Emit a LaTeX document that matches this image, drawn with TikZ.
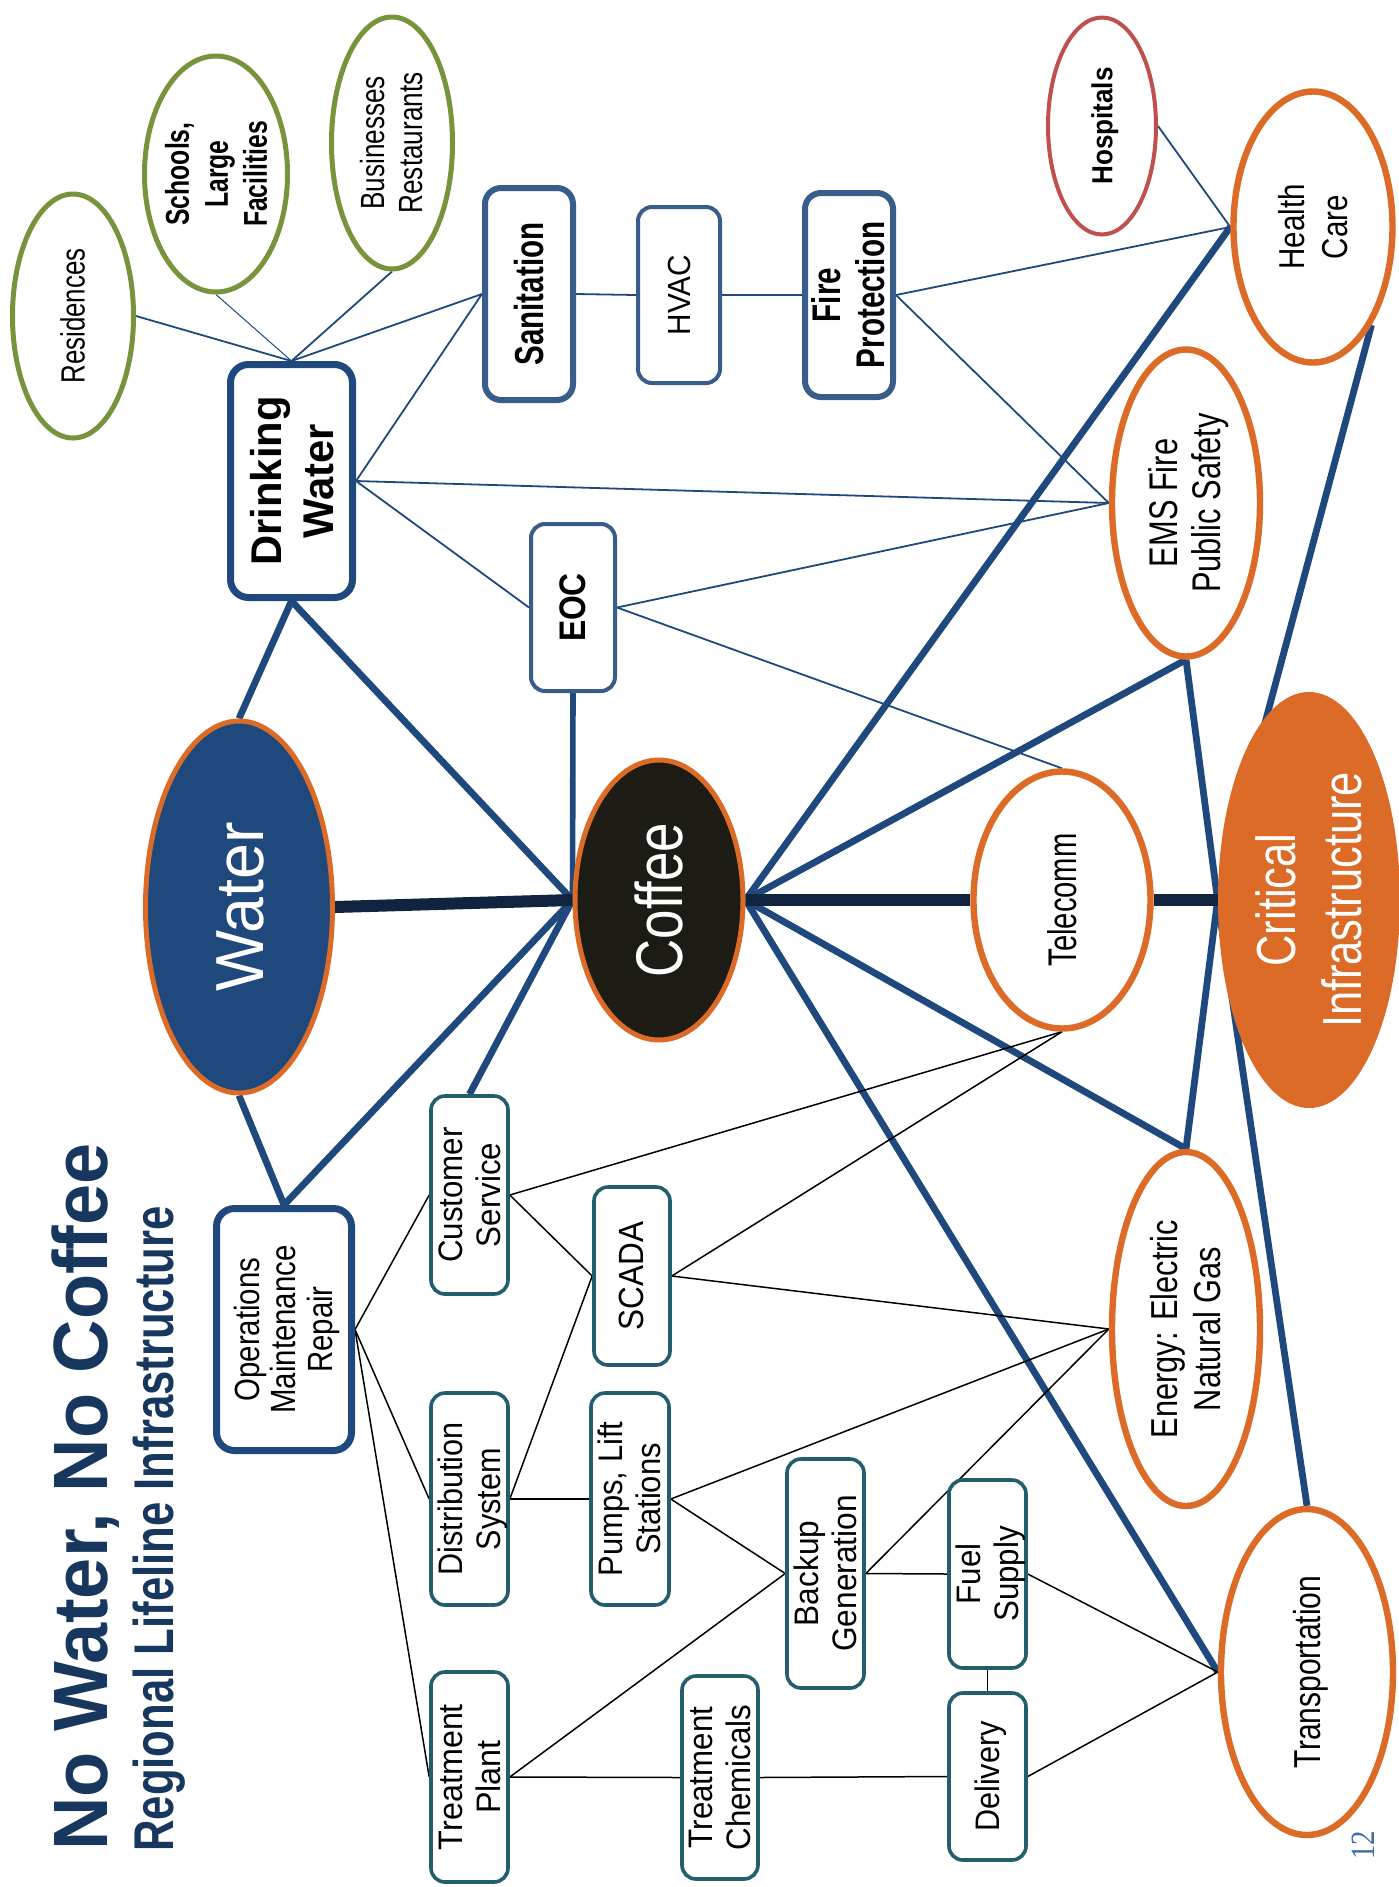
\documentclass[tikz,border=0pt]{standalone}
\usepackage{fontspec}
\setmainfont{Liberation Sans}
\newfontfamily\numfont{Liberation Serif}
\usepackage{graphicx}
\usetikzlibrary{shapes.geometric}

\pgfdeclarelayer{bg}
\pgfdeclarelayer{edges}
\pgfsetlayers{bg,edges,main}

\definecolor{navy}{HTML}{1F497D}
\definecolor{boxblue}{HTML}{385D8A}
\definecolor{tealbox}{HTML}{245E6E}
\definecolor{orng}{HTML}{DC6B27}
\definecolor{grn}{HTML}{77933C}
\definecolor{redring}{HTML}{C0504D}
\definecolor{coffeefill}{HTML}{1D1C14}
\definecolor{deepnavy}{HTML}{10243F}
\definecolor{titleblue}{HTML}{17375E}
\definecolor{pagenum}{HTML}{3C6DA8}

% rotated (bottom-to-top) label of zero size, centred on its capitals:
% font switch, size, baselineskip, horizontal stretch, lines
\newcommand\vtext[5]{%
  \makebox[0pt][c]{\raisebox{\dimexpr\depth-0.5\totalheight\relax}[0pt][0pt]{%
    \rotatebox{90}{\fontsize{#2}{#3}\selectfont#1%
      \scalebox{#4}[1]{\raisebox{-0.12em}[\height][\depth]{%
        \begin{tabular}{@{}c@{}}#5\end{tabular}}}}}}}

\begin{document}
\begin{tikzpicture}[x=0.5pt,y=-0.5pt,
  ring/.style={ellipse, inner sep=0pt, fill=white},
  tile/.style={rectangle, inner sep=0pt, fill=white},
  greenring/.style={ring, draw=grn, line width=2.5pt},
  orangering/.style={ring, draw=orng, line width=3.2pt},
  mainbox/.style={tile, draw=navy, line width=3.5pt, rounded corners=9pt},
  bluebox/.style={tile, draw=boxblue, line width=3pt, rounded corners=8pt},
  lightbox/.style={tile, draw=boxblue, line width=2pt, rounded corners=7pt},
  tealtile/.style={tile, draw=tealbox, line width=1.8pt, rounded corners=7pt},
  thinblue/.style={draw=navy, line width=0.9pt},
  hairblue/.style={draw=navy, line width=0.5pt},
  thinblack/.style={draw=black, line width=0.75pt},
  trunk/.style={draw=navy, line width=3.4pt},
  heavy/.style={draw=deepnavy, line width=6pt}]

\useasboundingbox (0,0) rectangle (1399,1887);
\begin{pgfonlayer}{bg}
  \fill[white] (0,0) rectangle (1399,1887);
\end{pgfonlayer}

% headings
\node[inner sep=0pt, text=titleblue] (title) at (80,1497)
  {\vtext{\bfseries}{38.5pt}{46pt}{0.96}{No Water, No Coffee}};
\node[inner sep=0pt, text=titleblue] (subtitle) at (153,1529)
  {\vtext{\bfseries}{28pt}{33.6pt}{0.78}{Regional Lifeline Infrastructure}};
\node[inner sep=0pt, text=pagenum] (pageno) at (1362,1845)
  {\vtext{\numfont}{17pt}{20pt}{0.85}{12}};

% customers
\node[greenring, minimum width=60.5pt, minimum height=122pt] (res) at (73,316)
  {\vtext{}{16.8pt}{19pt}{0.77}{Residences}};
\node[greenring, minimum width=71.5pt, minimum height=118pt] (sch) at (216,174)
  {\vtext{\bfseries}{16.5pt}{19.5pt}{0.75}{\bfseries Schools,\\\bfseries Large\\\bfseries Facilities}};
\node[greenring, minimum width=60.5pt, minimum height=126pt] (bus) at (392,143)
  {\vtext{}{16.75pt}{19pt}{0.78}{Businesses\\Restaurants}};

% water side
\node[mainbox, minimum width=61pt, minimum height=116.5pt] (dw) at (291.5,481)
  {\vtext{\bfseries}{21.5pt}{26pt}{0.97}{\bfseries Drinking\\\bfseries Water}};
\node[bluebox, minimum width=44pt, minimum height=106pt] (san) at (529,294)
  {\vtext{\bfseries}{20.25pt}{23pt}{0.73}{\bfseries Sanitation}};
\node[lightbox, minimum width=41pt, minimum height=88pt] (hvac) at (679,295)
  {\vtext{}{16pt}{19pt}{0.93}{HVAC}};
\node[bluebox, minimum width=44pt, minimum height=102pt] (fire) at (849,295)
  {\vtext{\bfseries}{20pt}{22pt}{0.74}{\bfseries Fire\\\bfseries Protection}};
\node[lightbox, minimum width=42pt, minimum height=83.5pt] (eoc) at (573,607.5)
  {\vtext{\bfseries}{18.5pt}{21pt}{0.86}{\bfseries EOC}};

\node[ring, draw=orng, fill=navy, line width=2.5pt, minimum width=93.5pt, minimum height=186pt, text=white] (water) at (239,907)
  {\vtext{}{34pt}{40pt}{0.95}{Water}};
\node[ring, draw=orng, fill=coffeefill, line width=2.5pt, minimum width=84pt, minimum height=140pt, text=white] (coffee) at (659,900)
  {\vtext{}{33pt}{39pt}{0.8}{Coffee}};

% critical infrastructure side
\node[ring, draw=redring, line width=2pt, minimum width=54pt, minimum height=108.5pt] (hosp) at (1102,126)
  {\vtext{\bfseries}{14.5pt}{17pt}{0.9}{\bfseries Hospitals}};
\node[orangering, minimum width=79.5pt, minimum height=135.5pt] (hc) at (1313,227)
  {\vtext{}{18pt}{21.5pt}{0.82}{Health\\Care}};
\node[orangering, minimum width=74pt, minimum height=153.5pt] (ems) at (1186,503)
  {\vtext{}{20pt}{21.5pt}{0.77}{EMS Fire\\Public Safety}};
\node[orangering, minimum width=88.5pt, minimum height=128.5pt] (tel) at (1062,900)
  {\vtext{}{20pt}{23pt}{0.73}{Telecomm}};
\node[ring, fill=orng, minimum width=91pt, minimum height=208pt, text=white] (ci) at (1309,900)
  {\vtext{}{27.5pt}{33pt}{0.79}{Critical\\Infrastructure}};
\node[orangering, minimum width=74pt, minimum height=177pt] (energy) at (1186,1329)
  {\vtext{}{18.75pt}{21.5pt}{0.82}{Energy: Electric\\Natural Gas}};
\node[orangering, minimum width=86pt, minimum height=163pt] (transp) at (1307,1672)
  {\vtext{}{18.75pt}{21.5pt}{0.8}{Transportation}};

% utility operations
\node[mainbox, minimum width=67.5pt, minimum height=121pt] (omr) at (284,1329.5)
  {\vtext{}{17.5pt}{18.25pt}{0.84}{Operations\\Maintenance\\Repair}};
\node[tealtile, minimum width=38.5pt, minimum height=99pt] (cs) at (469.5,1195)
  {\vtext{}{17pt}{19pt}{0.92}{Customer\\Service}};
\node[tealtile, minimum width=38pt, minimum height=89pt] (scada) at (632,1276)
  {\vtext{}{17.5pt}{19pt}{0.9}{SCADA}};
\node[tealtile, minimum width=38.5pt, minimum height=106pt] (dist) at (469.5,1499)
  {\vtext{}{17pt}{19pt}{0.9}{Distribution\\System}};
\node[tealtile, minimum width=39pt, minimum height=106pt] (pumps) at (630,1499)
  {\vtext{}{17pt}{19pt}{0.91}{Pumps, Lift\\Stations}};
\node[tealtile, minimum width=38.5pt, minimum height=105pt] (tp) at (469.5,1777)
  {\vtext{}{17pt}{19pt}{0.95}{Treatment\\Plant}};
\node[tealtile, minimum width=38pt, minimum height=101.5pt] (tc) at (720,1777.5)
  {\vtext{}{17pt}{19pt}{0.92}{Treatment\\Chemicals}};
\node[tealtile, minimum width=38.5pt, minimum height=114.5pt] (backup) at (825.5,1573.5)
  {\vtext{}{17pt}{19pt}{0.93}{Backup\\Generation}};
\node[tealtile, minimum width=38.5pt, minimum height=94pt] (fuel) at (987.5,1574)
  {\vtext{}{17pt}{19pt}{0.92}{Fuel\\Supply}};
\node[tealtile, minimum width=38.5pt, minimum height=83.5pt] (deliv) at (987.5,1776.5)
  {\vtext{}{17pt}{19pt}{0.9}{Delivery}};

\begin{pgfonlayer}{edges}
  % fine links around drinking water and services
  \draw[thinblue] (dw.north) -- (res.east);
  \draw[hairblue] (dw.north) -- (sch.south);
  \draw[thinblue] (dw.north) -- (bus.south);
  \draw[thinblue] (dw.north) -- (san.west);
  \draw[thinblue] (dw.east) -- (san.west);
  \draw[thinblue] (dw.east) -- (ems.west);
  \draw[thinblue] (dw.east) -- (eoc.west);
  \draw[thinblue] (san.east) -- (hvac.west);
  \draw[thinblue] (hvac.east) -- (fire.west);
  \draw[thinblue] (fire.east) -- (hc.west);
  \draw[thinblue] (fire.east) -- (ems.west);
  \draw[thinblue] (hosp.east) -- (hc.west);
  \draw[thinblue] (eoc.east) -- (ems.west);
  \draw[thinblue] (eoc.east) -- (tel.north);

  % main trunks
  \draw[trunk] (dw.south) -- (water.north);
  \draw[trunk] (dw.south) -- (coffee.west);
  \draw[trunk] (water.south) -- (omr.north);
  \draw[trunk] (coffee.west) -- (omr.north);
  \draw[trunk] (coffee.west) -- (cs.north);
  \draw[trunk, line width=2.8pt] (eoc.south) -- (coffee.west);
  \draw[trunk] (coffee.east) -- (hc.west);
  \draw[trunk] (coffee.east) -- (ems.south);
  \draw[trunk] (coffee.east) -- (energy.north);
  \draw[trunk] (coffee.east) -- (transp.west);
  \draw[trunk] (ems.south) -- (ci.west);
  \draw[trunk] (ci.west) -- (energy.north);
  \draw[trunk] (hc.south east) -- (ci.west);
  \draw[trunk] (ci.west) -- (transp.north);

  \draw[heavy] (water.east) -- (coffee.west);
  \draw[heavy] (coffee.east) -- (tel.west);
  \draw[heavy] (tel.east) -- (ci.west);

  % operations network
  \draw[thinblack] (omr.east) -- (cs.west);
  \draw[thinblack] (omr.east) -- (dist.west);
  \draw[thinblack] (omr.east) -- (tp.west);
  \draw[thinblack] (cs.east) -- (scada.west);
  \draw[thinblack] (cs.east) -- (tel.south);
  \draw[thinblack] (dist.east) -- (scada.west);
  \draw[thinblack] (dist.east) -- (pumps.west);
  \draw[thinblack] (scada.east) -- (tel.south);
  \draw[thinblack] (scada.east) -- (energy.west);
  \draw[thinblack] (pumps.east) -- (energy.west);
  \draw[thinblack] (pumps.east) -- (backup.west);
  \draw[thinblack] (tp.east) -- (backup.west);
  \draw[thinblack] (tp.east) -- (tc.west);
  \draw[thinblack] (backup.east) -- (energy.west);
  \draw[thinblack] (backup.east) -- (fuel.west);
  \draw[thinblack] (fuel.south) -- (deliv.north);
  \draw[thinblack] (fuel.east) -- (transp.west);
  \draw[thinblack] (tc.east) -- (deliv.west);
  \draw[thinblack] (deliv.east) -- (transp.west);
\end{pgfonlayer}
\end{tikzpicture}
\end{document}
